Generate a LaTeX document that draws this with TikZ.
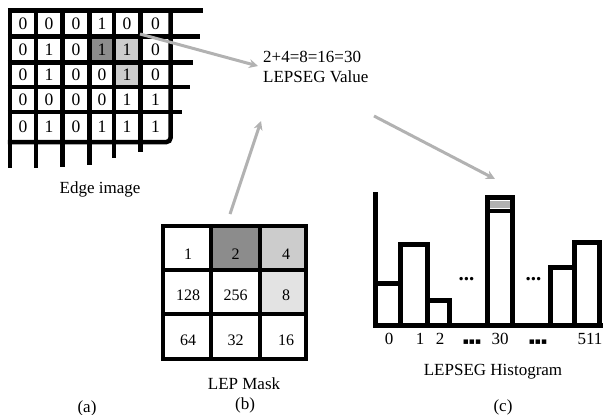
\documentclass[tikz,border=0pt]{standalone}
\usepackage{fontspec}
\setmainfont{Liberation Serif}
\newfontfamily\symfont{DejaVu Sans}
\usetikzlibrary{arrows.meta,calc,positioning}
\tikzset{
  gridline/.style={line width=4.5pt, black},
  cellnum/.style={font=\fontsize{16}{18}\selectfont, inner sep=0pt},
  pixnum/.style={font=\fontsize{17.5}{19}\selectfont, inner sep=0pt},
  caption/.style={font=\fontsize{17}{20}\selectfont, inner sep=0pt},
  flowarrow/.style={-{Stealth[length=9pt, width=9pt]}, black!30, line width=3pt},
  histbar/.style={line width=5pt, black, fill=white},
}

\begin{document}
\begin{tikzpicture}[x=1pt, y=-1pt]
  \def\colx{{23,49,76,102,127,155.5}}
  \def\hb{325}

  % Fixed bounding box
  \path[use as bounding box] (0,0) rectangle (603,415);

  % Edge image: shaded cells
  \fill[black!45] (89.5,36.5) rectangle (114,62.5);
  \fill[black!20] (114,36.5) rectangle (140.5,62.5);
  \fill[black!20] (114,62.5) rectangle (140.5,87);

  % Edge image: grid lines with ragged ends
  \foreach \xx/\yend in {10/168, 36/168, 62.5/167, 89.5/165, 114/158, 140.5/152} {
    \draw[gridline] (\xx,8.5) -- (\xx,\yend);
  }
  \foreach \yy/\xend in {10.5/203, 36.5/200, 62.5/193, 87/190, 112/182} {
    \draw[gridline] (7.75,\yy) -- (\xend,\yy);
  }
  \draw[gridline, rounded corners=4pt] (170.5,8.5) -- (170.5,142) -- (7.75,142);

  % Edge image: pixel values
  \foreach \yy/\vals [count=\r] in {23.5/{0,0,0,1,0,0}, 49.5/{0,1,0,1,1,0},
      75/{0,1,0,0,1,0}, 99.5/{0,0,0,0,1,1}, 127/{0,1,0,1,1,1}} {
    \foreach \v [count=\c] in \vals {
      \pgfmathsetmacro{\xx}{\colx[\c-1]}
      \node[pixnum] (e-\r-\c) at (\xx,\yy) {\v};
    }
  }
  \node[caption] (edgecap) at (100,189) {Edge image};
  \node[caption] (capa) at (87,408) {(a)};

  % LEP mask
  \fill[black!45] (211,226) rectangle (260,270);
  \fill[black!20] (260,226) rectangle (306,270);
  \fill[black!11] (260,270) rectangle (306,314);
  \draw[line width=4pt] (163,226) rectangle (306,359);
  \draw[line width=4pt] (211,226) -- (211,359);
  \draw[line width=4pt] (260,226) -- (260,359);
  \draw[line width=4pt] (163,270) -- (306,270);
  \draw[line width=4pt] (163,314) -- (306,314);
  \foreach \yy/\vals [count=\r] in {254/{1,2,4}, 295/{128,256,8}, 340/{64,32,16}} {
    \foreach \v [count=\c] in \vals {
      \pgfmathsetmacro{\xx}{{188,235.5,286}[\c-1]}
      \node[cellnum] (m-\r-\c) at (\xx,\yy) {\v};
    }
  }
  \node[caption] (maskcap) at (244,384) {LEP Mask};
  \node[caption] (capb) at (245,405) {(b)};

  % LEPSEG value
  \node[caption, align=left, anchor=north west] (lepval) at (263,51) {2+4=8=16=30\\LEPSEG Value};

  % Histogram
  \draw[line width=5pt] (375.5,192) -- (375.5,\hb);
  \foreach \xl/\xr/\yt in {375.5/400.5/283, 400.5/427.5/244.5, 427.5/449.5/300.5,
      487.5/512.5/197.5, 550.5/574.5/267.5, 574.5/599.5/242.5} {
    \draw[histbar] (\xl,\hb) rectangle (\xr,\yt);
  }
  \fill[black!30] (490,200.5) rectangle (510,208);
  \draw[line width=4pt] (487.5,210.5) -- (512.5,210.5);
  \draw[line width=5pt] (373,\hb) -- (603,\hb);
  \node[font=\bfseries\fontsize{21}{22}\selectfont, inner sep=0pt] (dotsa) at (466.5,279) {...};
  \node[font=\bfseries\fontsize{21}{22}\selectfont, inner sep=0pt] (dotsb) at (533.5,279) {...};
  \foreach \lab/\xx in {0/389, 1/420, 2/440, 30/500, 511/590} {
    \node[caption] (h-\lab) at (\xx,339) {\lab};
  }
  \node[font=\symfont\fontsize{9}{10}\selectfont, inner sep=0pt] (skipa) at (472,342) {▪▪▪};
  \node[font=\symfont\fontsize{9}{10}\selectfont, inner sep=0pt] (skipb) at (538,342) {▪▪▪};
  \node[caption] (histcap) at (493,372) {LEPSEG Histogram};
  \node[caption] (capc) at (503,407) {(c)};

  % Arrows
  \coordinate (edgeout) at (140,34);
  \coordinate (valin) at (258,66);
  \coordinate (maskout) at (230,214);
  \coordinate (valbot) at (261,121);
  \coordinate (valout) at (374,116);
  \coordinate (barin) at (495,179);
  \draw[flowarrow] (edgeout) -- (valin);
  \draw[flowarrow] (maskout) -- (valbot);
  \draw[flowarrow] (valout) -- (barin);

\end{tikzpicture}
\end{document}
